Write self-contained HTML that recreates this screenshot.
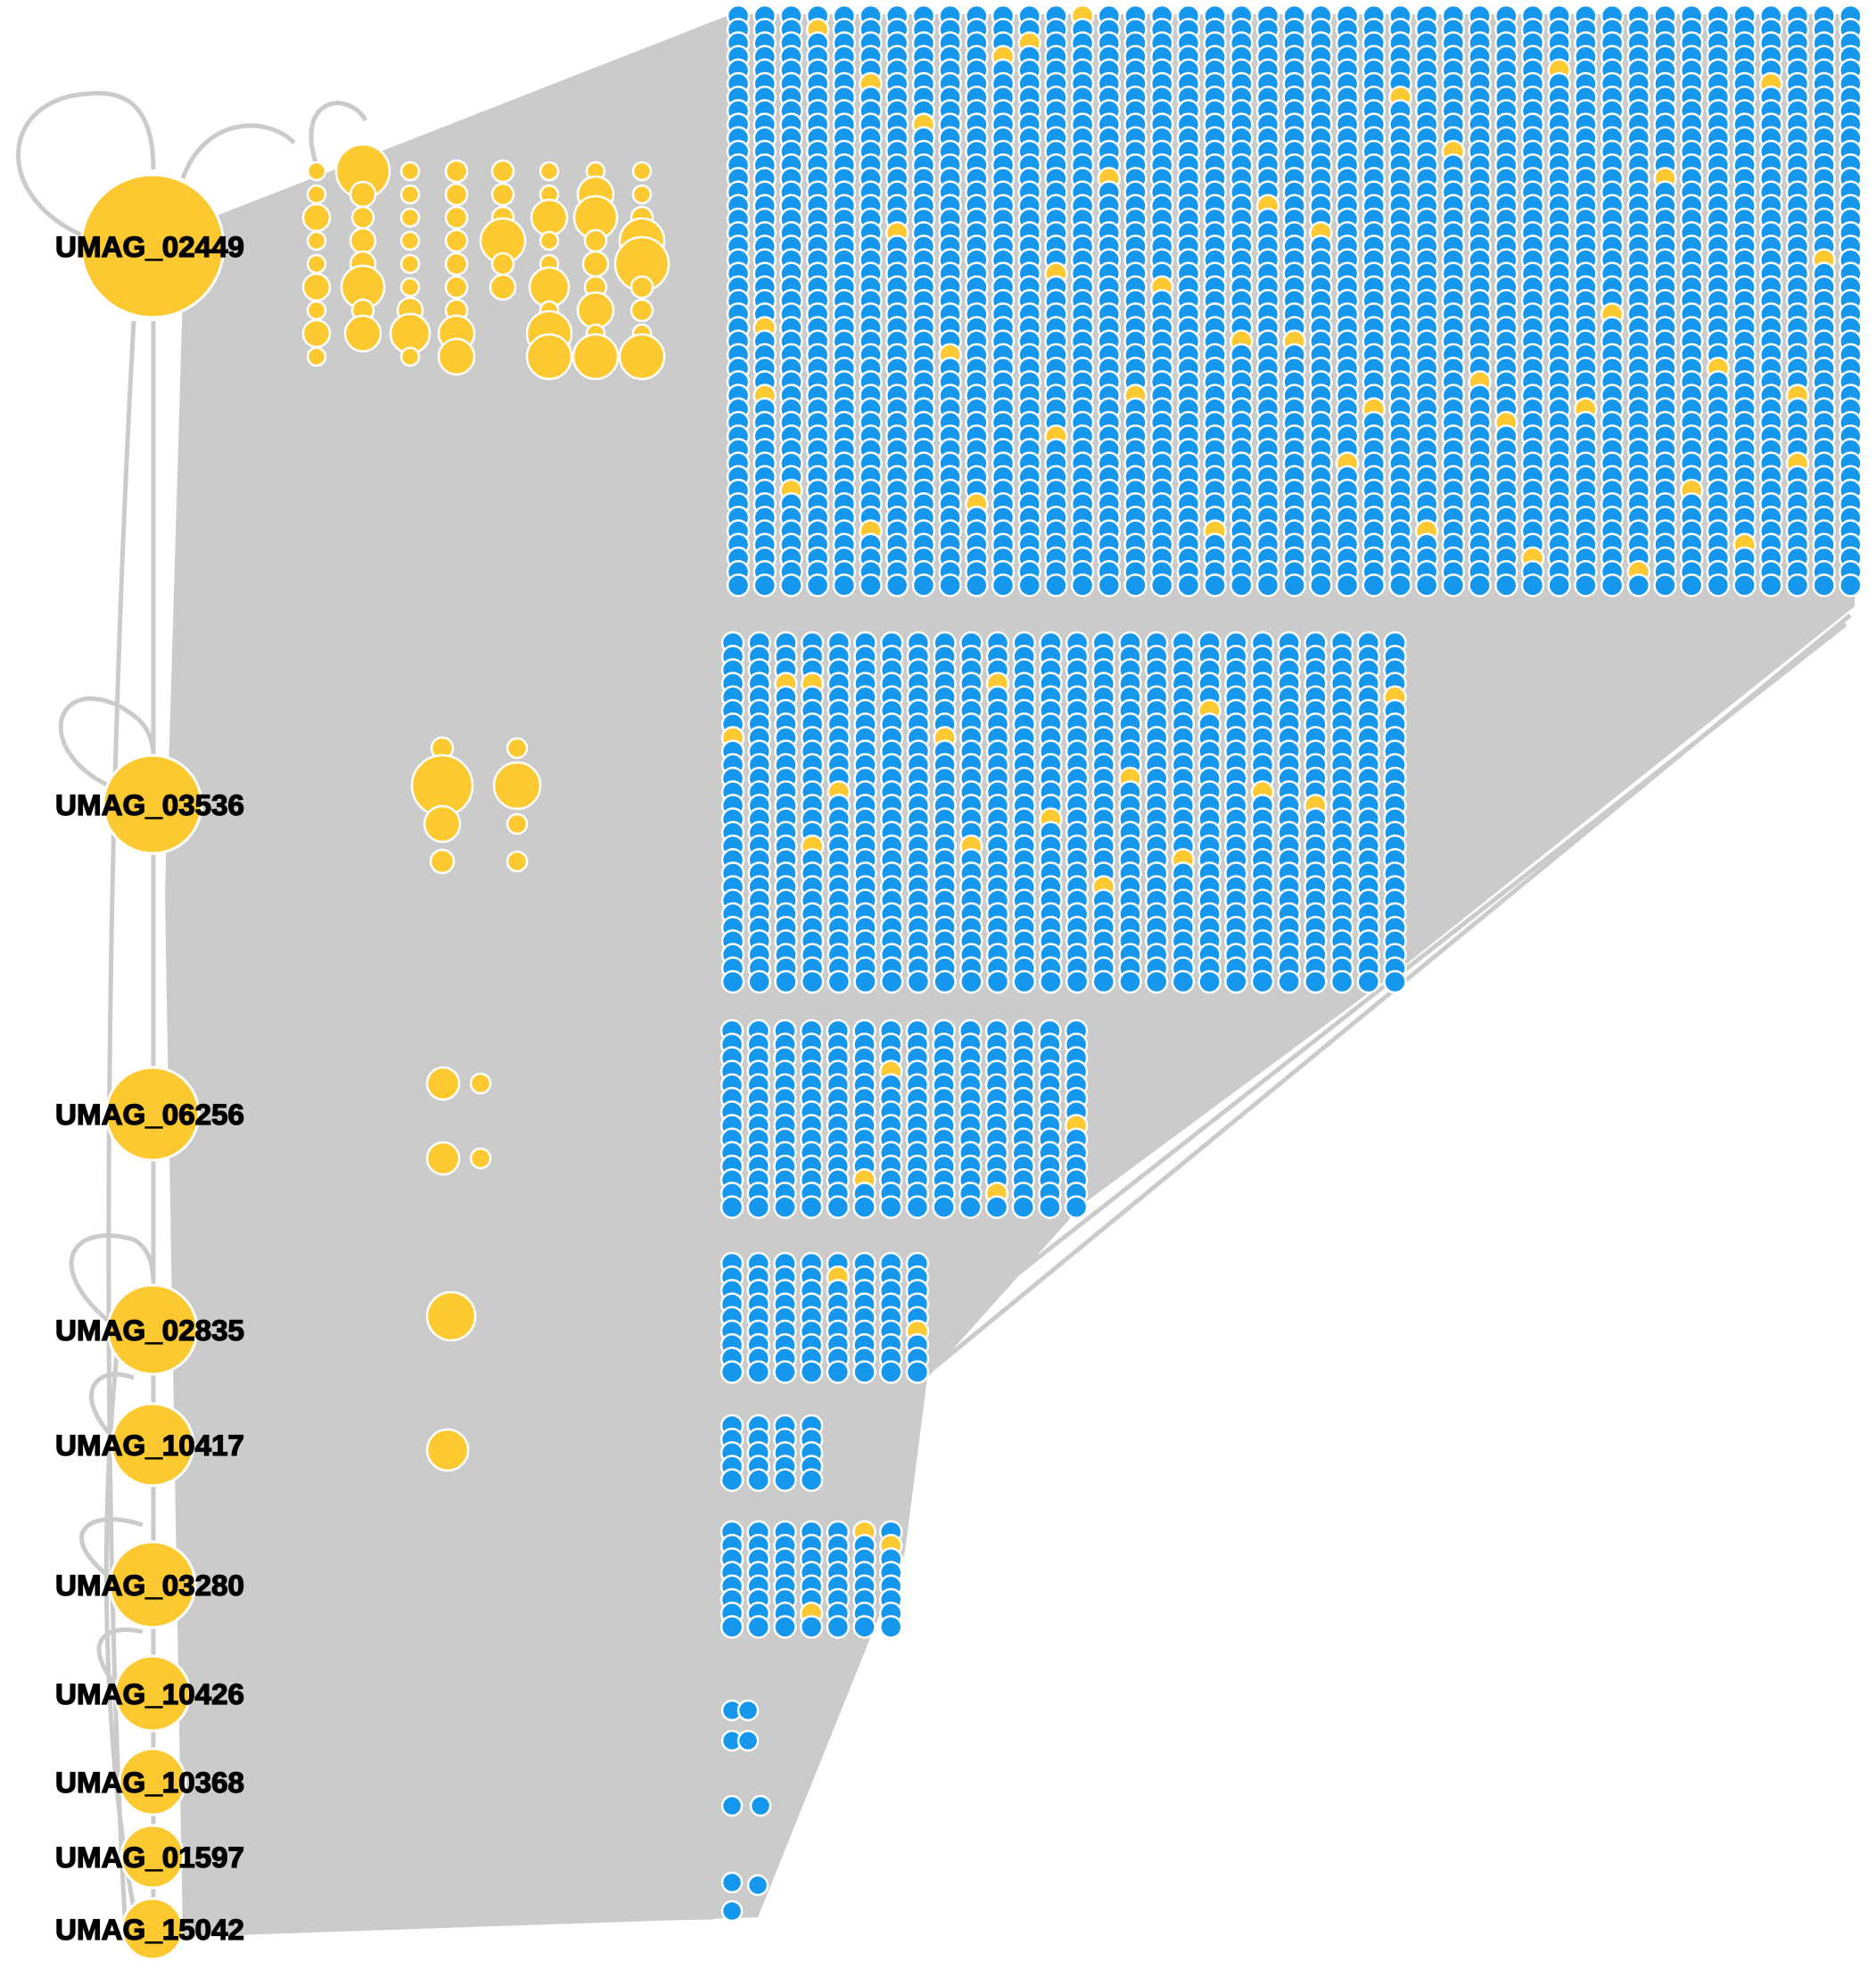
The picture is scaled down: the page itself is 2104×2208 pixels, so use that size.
<!DOCTYPE html>
<html><head><meta charset="utf-8"><style>
html,body{margin:0;padding:0;background:#fff;}
svg{display:block;}
.lbl{font-family:"Liberation Sans",Arial,sans-serif;font-weight:bold;font-size:32px;fill:#000;stroke:#000;stroke-width:1.3px;}
</style></head><body>
<svg id="net" width="2104" height="2208" viewBox="0 0 2104 2208" xmlns="http://www.w3.org/2000/svg">
<g id="edges" fill="none" stroke="#cbcbcb" stroke-width="5">
<polygon fill="#cbcbcb" stroke="none" points="235,245 820,16 2080,16 2080,680 1560,1095 1215,1350 1040,1545 1015,1740 850,2150 205,2172 185,1000 205,330"/>
<path d="M95,265 C-10,220 0,110 100,105 C150,100 172,130 172,190"/>
<path d="M205,200 C230,130 300,130 330,160"/>
<path d="M355,185 C330,110 390,100 410,135"/>
<path d="M120,880 C40,840 60,760 130,790 C160,805 170,820 172,845"/>
<path d="M120,1480 C50,1420 80,1370 150,1390 C168,1400 172,1420 172,1440"/>
<path d="M125,1610 C80,1560 110,1530 150,1545"/>
<path d="M125,1770 C60,1720 100,1690 160,1710"/>
<path d="M130,1890 C90,1840 120,1820 160,1830"/>
<path d="M172,360 L172,2130"/>
<path d="M150,360 C120,900 110,1600 140,2150"/>
<path d="M135,1480 C110,1700 115,1950 150,2140"/>
<path d="M200,2160 L800,2150"/>
<path d="M200,2160 L820,2100"/>
<path d="M200,2080 L820,2110"/>
<path d="M220,2150 L840,1920"/>
<path d="M220,2110 L850,2030"/>
<path d="M850,1640 L1000,1720"/>
<path d="M900,1550 L1000,1730"/>
<path d="M860,1660 L840,2130"/>
<path d="M1040,1540 L2075,690"/>
<path d="M1050,1500 L2070,700"/>
</g>
<g id="nodes"></g>
<g id="labels"></g>
</svg>
<script>
// hub genes (name, center y, radius)
const hubNames = ["UMAG_02449","UMAG_03536","UMAG_06256","UMAG_02835","UMAG_10417","UMAG_03280","UMAG_10426","UMAG_10368","UMAG_01597","UMAG_15042"];
const hubY = [276,902,1249,1491,1620,1777,1899,1998,2082,2163];
const hubR = [80,55,52,50,46,48,42,37,35,34];
// blue target blocks: [col count, row count, x0, y0]
const blockCols = [43,26,14,8,4,7];
const blockRows = [43,26,14,9,5,8];
const blockX = [828,822,821,821,821,821];
const blockY = [18,721,1156,1417,1599,1718];
// yellow nodes within blocks [block, col, row]
const yellowIn = [[0,1,23],[0,3,1],[0,5,5],[0,1,28],[0,7,8],[0,10,3],[0,11,2],[0,13,0],[0,14,12],[0,16,20],[0,19,24],[0,22,16],[0,24,29],[0,25,6],[0,27,10],[0,29,30],[0,31,4],[0,33,22],[0,35,12],[0,37,26],[0,39,5],[0,41,18],[0,40,33],[0,2,35],[0,5,38],[0,9,36],[0,12,31],[0,15,28],[0,18,38],[0,21,24],[0,23,33],[0,26,38],[0,28,27],[0,30,40],[0,32,29],[0,34,41],[0,36,35],[0,38,39],[0,40,28],[0,6,16],[0,8,25],[0,20,14],[0,12,19],
[1,0,7],[1,2,3],[1,4,11],[1,3,3],[1,10,3],[1,12,13],[1,15,10],[1,18,5],[1,20,11],[1,22,12],[1,3,15],[1,14,18],[1,17,16],[1,25,4],[1,8,7],[1,9,15],
[2,6,3],[2,5,11],[2,13,7],[2,10,12],[3,4,1],[3,7,5],[5,6,1],[5,5,0],[5,3,6]];
const blockDX = 29.7, blockDY = 15.2, nodeR = 12;
// extra small blue nodes
const pairX = [821,839,821,839,821,853,821,850,821];
const pairY = [1918,1918,1952,1952,2025,2025,2111,2114,2143];
// yellow cluster near top hub
const clusterCols = [355,407,460,512,564,616,668,720];
const clusterRows = [9,8,9,9,6,9,9,9];
const clusterSizes = [[10,10,15,10,10,15,10,15,10,10],[30,14,12,14,14,24,12,20,10],[10,10,10,10,10,10,14,22,10],[12,12,12,12,12,12,12,20,20],[12,12,12,25,12,14],[10,10,20,10,10,22,10,25,25],[10,20,24,12,14,12,20,10,25],[10,10,12,25,30,12,12,10,25]];
const midX = [496,496,496,496,580,580,580,580,497,539,497,539,506,502];
const midY = [839,881,924,966,839,881,924,966,1215,1215,1299,1299,1476,1626];
const midR = [12,34,20,13,11,26,11,11,18,11,18,11,27,23];

const NS="http://www.w3.org/2000/svg";
const gN=document.getElementById('nodes'), gL=document.getElementById('labels');
function circ(cx,cy,r,fill,sw){const c=document.createElementNS(NS,'circle');c.setAttribute('cx',cx);c.setAttribute('cy',cy);c.setAttribute('r',r);c.setAttribute('fill',fill);c.setAttribute('stroke','#fff');c.setAttribute('stroke-width',sw);gN.appendChild(c);return c;}
const ySet=new Set(yellowIn.map(a=>a.join(',')));
for(let b=0;b<blockCols.length;b++){
  for(let c=0;c<blockCols[b];c++){
    for(let r=0;r<blockRows[b];r++){
      const yel=ySet.has(b+','+c+','+r);
      const el=circ(blockX[b]+c*blockDX,blockY[b]+r*blockDY,nodeR,yel?'#fdc930':'#1497ec',2.5);
      
      
    }
  }
}
for(let i=0;i<pairX.length;i++){
  const el=circ(pairX[i],pairY[i],11,'#1497ec',2.5);
  
  
}
for(let i=0;i<clusterCols.length;i++){
  for(let j=0;j<clusterRows[i];j++){
    const el=circ(clusterCols[i],192+j*26,clusterSizes[i][j]||10,'#fdc930',2.5);
    
    
  }
}
for(let i=0;i<midX.length;i++){
  const el=circ(midX[i],midY[i],midR[i],'#fdc930',2.5);
  
  
}
for(let i=0;i<hubNames.length;i++){
  const el=circ(171,hubY[i],hubR[i],'#fdc930',3);
  
  
  const t=document.createElementNS(NS,'text');
  t.setAttribute('x',62);t.setAttribute('y',hubY[i]+12);t.setAttribute('class','lbl');
  t.setAttribute('textLength',212);t.setAttribute('lengthAdjust','spacingAndGlyphs');
  t.textContent=hubNames[i];
  
  
  gL.appendChild(t);
}
</script>
</body></html>
